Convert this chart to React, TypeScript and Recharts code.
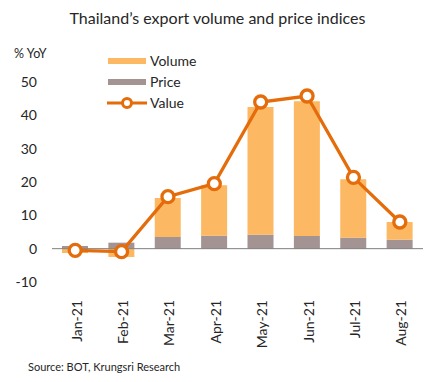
import React from 'react';
import { ComposedChart, Bar, Line, XAxis, YAxis, ReferenceLine, Legend } from 'recharts';

const months = ['Jan-21', 'Feb-21', 'Mar-21', 'Apr-21', 'May-21', 'Jun-21', 'Jul-21', 'Aug-21'];
const volume = [-1.3, -2.5, 11.7, 15.1, 38.3, 40.4, 17.5, 5.3];
const price = [0.8, 1.8, 3.5, 3.9, 4.2, 3.8, 3.3, 2.7];
const value = [-0.5, -0.9, 15.6, 19.5, 44.0, 45.8, 21.4, 8.0];
const yTicks = [-10, 0, 10, 20, 30, 40, 50];

const title = 'Thailand\u2019s export volume and price indices';
const yUnit = '% YoY';
const source = 'Source: BOT, Krungsri Research';

const VOL_COLOR = '#FDB863';
const PRICE_COLOR = '#A39393';
const LINE_COLOR = '#E46C0A';
const FONT = 'Lato, "Open Sans", sans-serif';

const data = months.map((m, i) => ({ month: m, Volume: volume[i], Price: price[i], Value: value[i] }));

const XTick = (props: any) => {
  const { x, y, payload } = props;
  return (
    <text
      x={0}
      y={0}
      transform={`translate(${x + 1},${y + 10}) rotate(-90)`}
      textAnchor="end"
      dominantBaseline="central"
      fontSize={14}
      fontFamily={FONT}
      fill="#262626"
    >
      {payload.value}
    </text>
  );
};

const LegendContent = () => {
  const items = [
    { name: 'Volume', kind: 'bar', color: VOL_COLOR },
    { name: 'Price', kind: 'bar', color: PRICE_COLOR },
    { name: 'Value', kind: 'line', color: LINE_COLOR },
  ];
  return (
    <div style={{ fontFamily: FONT, fontSize: 14, color: '#262626' }}>
      {items.map((it) => (
        <div key={it.name} style={{ display: 'flex', alignItems: 'center', height: 21 }}>
          <svg width={40} height={14} style={{ marginRight: 3 }}>
            {it.kind === 'bar' ? (
              <rect x={1} y={4} width={38} height={6} fill={it.color} />
            ) : (
              <g>
                <line x1={0} y1={7} x2={40} y2={7} stroke={it.color} strokeWidth={3} />
                <circle cx={20} cy={7} r={4.5} fill="#fff" stroke={it.color} strokeWidth={3} />
              </g>
            )}
          </svg>
          <span>{it.name}</span>
        </div>
      ))}
    </div>
  );
};

export default function App() {
  return (
    <div style={{ position: 'absolute', left: 0, top: 0, width: 435, height: 382, background: '#fff' }}>
      <div
        style={{
          position: 'absolute', left: 0, top: 8, width: 435, textAlign: 'center',
          fontFamily: FONT, fontSize: 16, color: '#262626',
        }}
      >
        {title}
      </div>
      <div style={{ position: 'absolute', left: 14, top: 46, fontFamily: FONT, fontSize: 12.5, color: '#262626' }}>
        {yUnit}
      </div>
      <ComposedChart
        width={435}
        height={382}
        data={data}
        stackOffset="sign"
        margin={{ top: 82, right: 12, bottom: 40, left: 0 }}
      >
        <XAxis
          dataKey="month"
          axisLine={false}
          tickLine={false}
          interval={0}
          height={60}
          tick={<XTick />}
        />
        <YAxis
          domain={[-10, 50]}
          ticks={yTicks}
          width={52}
          axisLine={false}
          tickLine={false}
          tickSize={0}
          tickMargin={15}
          tick={{ fontSize: 14, fontFamily: FONT, fill: '#262626' }}
        />
        <ReferenceLine y={0} stroke="#7F7F7F" strokeWidth={1} />
        <Bar dataKey="Price" stackId="a" fill={PRICE_COLOR} barSize={26} isAnimationActive={false} />
        <Bar dataKey="Volume" stackId="a" fill={VOL_COLOR} barSize={26} isAnimationActive={false} />
        <Line
          dataKey="Value"
          stroke={LINE_COLOR}
          strokeWidth={3.3}
          dot={{ r: 6, fill: '#fff', stroke: LINE_COLOR, strokeWidth: 3.3 }}
          isAnimationActive={false}
        />
        <Legend
          layout="vertical"
          align="center"
          verticalAlign="middle"
          wrapperStyle={{ position: 'absolute', left: 107, top: 50, width: 'auto' }}
          content={<LegendContent />}
        />
      </ComposedChart>
      <div style={{ position: 'absolute', left: 28, top: 360, fontFamily: FONT, fontSize: 11, color: '#262626' }}>
        {source}
      </div>
    </div>
  );
}
